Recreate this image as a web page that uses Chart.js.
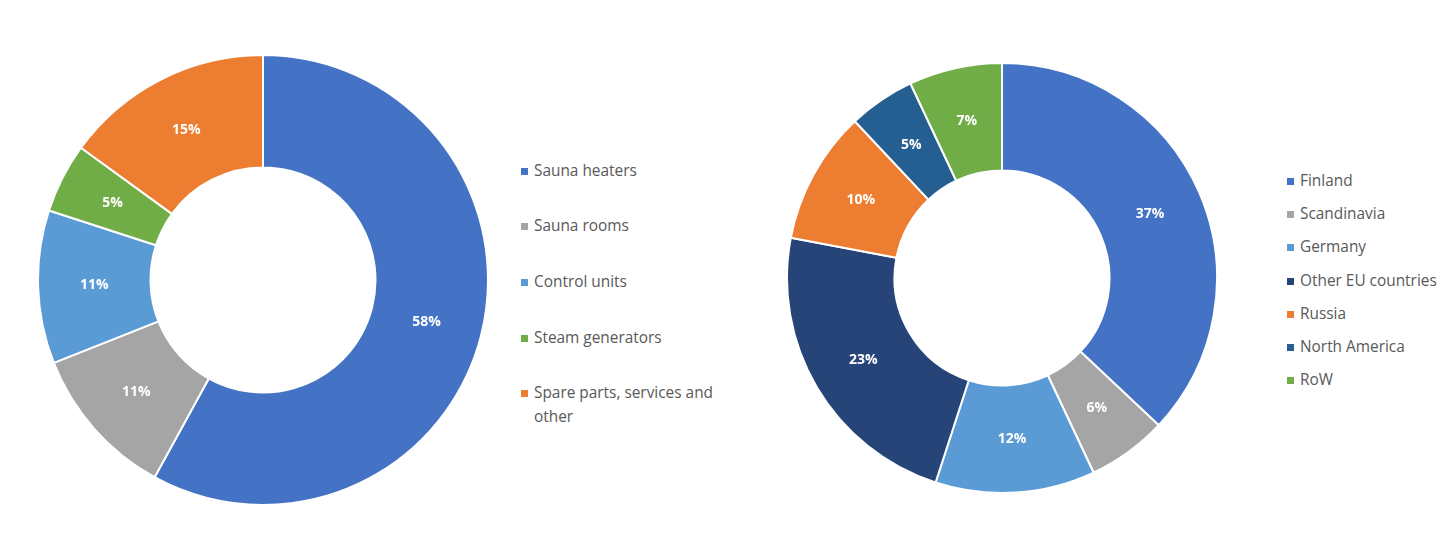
<!DOCTYPE html>
<html>
<head>
<meta charset="utf-8">
<script src="https://cdn.jsdelivr.net/npm/chart.js@4.4.1/dist/chart.umd.min.js"></script>
<style>
    body { margin: 0; background: #fff; width: 1456px; height: 555px; position: relative; overflow: hidden; font-family: "Open Sans", sans-serif; }
    .wrap { position: absolute; }
    .legend { position: absolute; color: #595959; font-size: 15.4px; }
    .legend .item { position: absolute; left: 0; white-space: nowrap; line-height: 24px; }
    .legend .box { position: absolute; left: 0; top: 9px; width: 7px; height: 7px; }
    .legend .txt { position: absolute; left: 13px; top: 0; }
</style>
</head>
<body>
<div class="wrap" id="w1" style="left:37px; top:54px; width:452px; height:452px;"><canvas id="productChart"></canvas></div>
<div class="wrap" id="w2" style="left:786px; top:62px; width:432px; height:432px;"><canvas id="marketChart"></canvas></div>
<div class="legend" id="legend1" style="left:521px; top:0;"></div>
<div class="legend" id="legend2" style="left:1287px; top:0;"></div>

<script>
// left donut: sales by product group
const productLabels = ['Sauna heaters', 'Sauna rooms', 'Control units', 'Steam generators', 'Spare parts, services and other'];
const productValues = [58, 11, 11, 5, 15];
const productColors = ['#4472C4', '#A5A5A5', '#5B9BD5', '#70AD47', '#ED7D31'];

// right donut: sales by market area
const marketLabels = ['Finland', 'Scandinavia', 'Germany', 'Other EU countries', 'Russia', 'North America', 'RoW'];
const marketValues = [37, 6, 12, 23, 10, 5, 7];
const marketColors = ['#4472C4', '#A5A5A5', '#5B9BD5', '#264478', '#ED7D31', '#255E91', '#70AD47'];

const sliceLabels = {
    id: 'sliceLabels',
    afterDatasetsDraw(chart) {
        const ctx = chart.ctx;
        const ds = chart.data.datasets[0];
        chart.getDatasetMeta(0).data.forEach((arc, i) => {
            const p = arc.tooltipPosition();
            ctx.save();
            ctx.fillStyle = '#ffffff';
            ctx.font = 'bold 14px "Open Sans"';
            ctx.textAlign = 'center';
            ctx.textBaseline = 'middle';
            ctx.fillText(ds.data[i] + '%', p.x, p.y);
            ctx.restore();
        });
    }
};

const donutChart = (id, labels, values, colors) => {
    const ctx = document.getElementById(id).getContext('2d');
    return new Chart(ctx, {
        type: 'doughnut',
        data: {
            labels: labels,
            datasets: [{
                data: values,
                backgroundColor: colors,
                borderColor: '#ffffff',
                borderWidth: 2
            }]
        },
        options: {
            responsive: true,
            maintainAspectRatio: false,
            animation: false,
            cutout: '50%',
            layout: { padding: 0 },
            plugins: {
                legend: { display: false },
                tooltip: { enabled: false }
            }
        },
        plugins: [sliceLabels]
    });
};

const buildLegend = (el, labels, colors, tops) => {
    labels.forEach((label, i) => {
        const item = document.createElement('div');
        item.className = 'item';
        item.style.top = tops[i] + 'px';
        item.innerHTML = '<span class="box" style="background:' + colors[i] + '"></span>' +
            '<span class="txt">' + label + '</span>';
        el.appendChild(item);
    });
};

donutChart('productChart', productLabels, productValues, productColors);
donutChart('marketChart', marketLabels, marketValues, marketColors);

buildLegend(document.getElementById('legend1'), ['Sauna heaters', 'Sauna rooms', 'Control units', 'Steam generators', 'Spare parts, services and<br>other'], productColors, [159, 214, 270, 326, 381]);
buildLegend(document.getElementById('legend2'), marketLabels, marketColors, [169, 202, 235, 269, 302, 335, 368]);
</script>
</body>
</html>
